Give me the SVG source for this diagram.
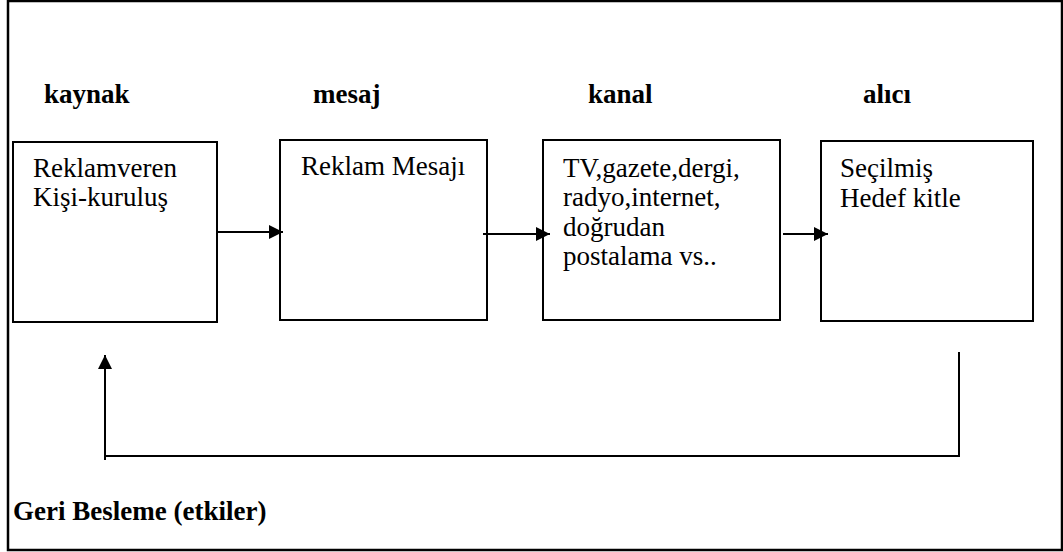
<svg xmlns="http://www.w3.org/2000/svg" width="1063" height="552" viewBox="0 0 1063 552">
  <style>
    .frame { fill: #fff; stroke: #000; stroke-width: 2.5; }
    .box { fill: #fff; stroke: #000; stroke-width: 2; }
    .line { fill: none; stroke: #000; stroke-width: 2; }
    .title { font-family: "Liberation Serif", "Times New Roman", serif; font-weight: bold; font-size: 27px; fill: #000; }
    .body { font-family: "Liberation Serif", "Times New Roman", serif; font-size: 27px; fill: #000; }
  </style>
  <defs>
    <marker id="arrow" viewBox="0 0 14 14" refX="14" refY="7" markerWidth="14" markerHeight="14" markerUnits="userSpaceOnUse" orient="auto">
      <path d="M0,0 L14,7 L0,14 Z" fill="#000"/>
    </marker>
  </defs>

  <rect class="frame" x="8" y="1" width="1054" height="549"/>

  <!-- column headings -->
  <g id="headings">
    <text class="title" x="44" y="103">kaynak</text>
    <text class="title" x="313" y="103">mesaj</text>
    <text class="title" x="588" y="103">kanal</text>
    <text class="title" x="863" y="103">alıcı</text>
  </g>

  <g id="kaynak">
    <rect class="box" x="13" y="142" width="204" height="180"/>
    <text class="body" x="33" y="177">Reklamveren</text>
    <text class="body" x="33" y="206">Kişi-kuruluş</text>
  </g>

  <g id="mesaj">
    <rect class="box" x="280" y="140" width="207" height="180"/>
    <text class="body" x="301" y="175">Reklam Mesajı</text>
  </g>

  <g id="kanal">
    <rect class="box" x="543" y="140" width="237" height="180"/>
    <text class="body" x="563" y="177">TV,gazete,dergi,</text>
    <text class="body" x="563" y="206">radyo,internet,</text>
    <text class="body" x="563" y="236">doğrudan</text>
    <text class="body" x="563" y="265">postalama vs..</text>
  </g>

  <g id="alici">
    <rect class="box" x="821" y="141" width="212" height="180"/>
    <text class="body" x="840" y="177">Seçilmiş</text>
    <text class="body" x="840" y="207">Hedef kitle</text>
  </g>

  <g id="connectors">
    <line class="line" x1="217" y1="232" x2="283" y2="232" marker-end="url(#arrow)"/>
    <line class="line" x1="483" y1="234" x2="550" y2="234" marker-end="url(#arrow)"/>
    <line class="line" x1="783" y1="234" x2="828" y2="234" marker-end="url(#arrow)"/>
    <!-- feedback loop -->
    <polyline class="line" points="959,352 959,456 104,456"/>
    <line class="line" x1="105" y1="460" x2="105" y2="355" marker-end="url(#arrow)"/>
  </g>

  <text id="geri-besleme" class="title" x="13" y="520">Geri Besleme (etkiler)</text>
</svg>
